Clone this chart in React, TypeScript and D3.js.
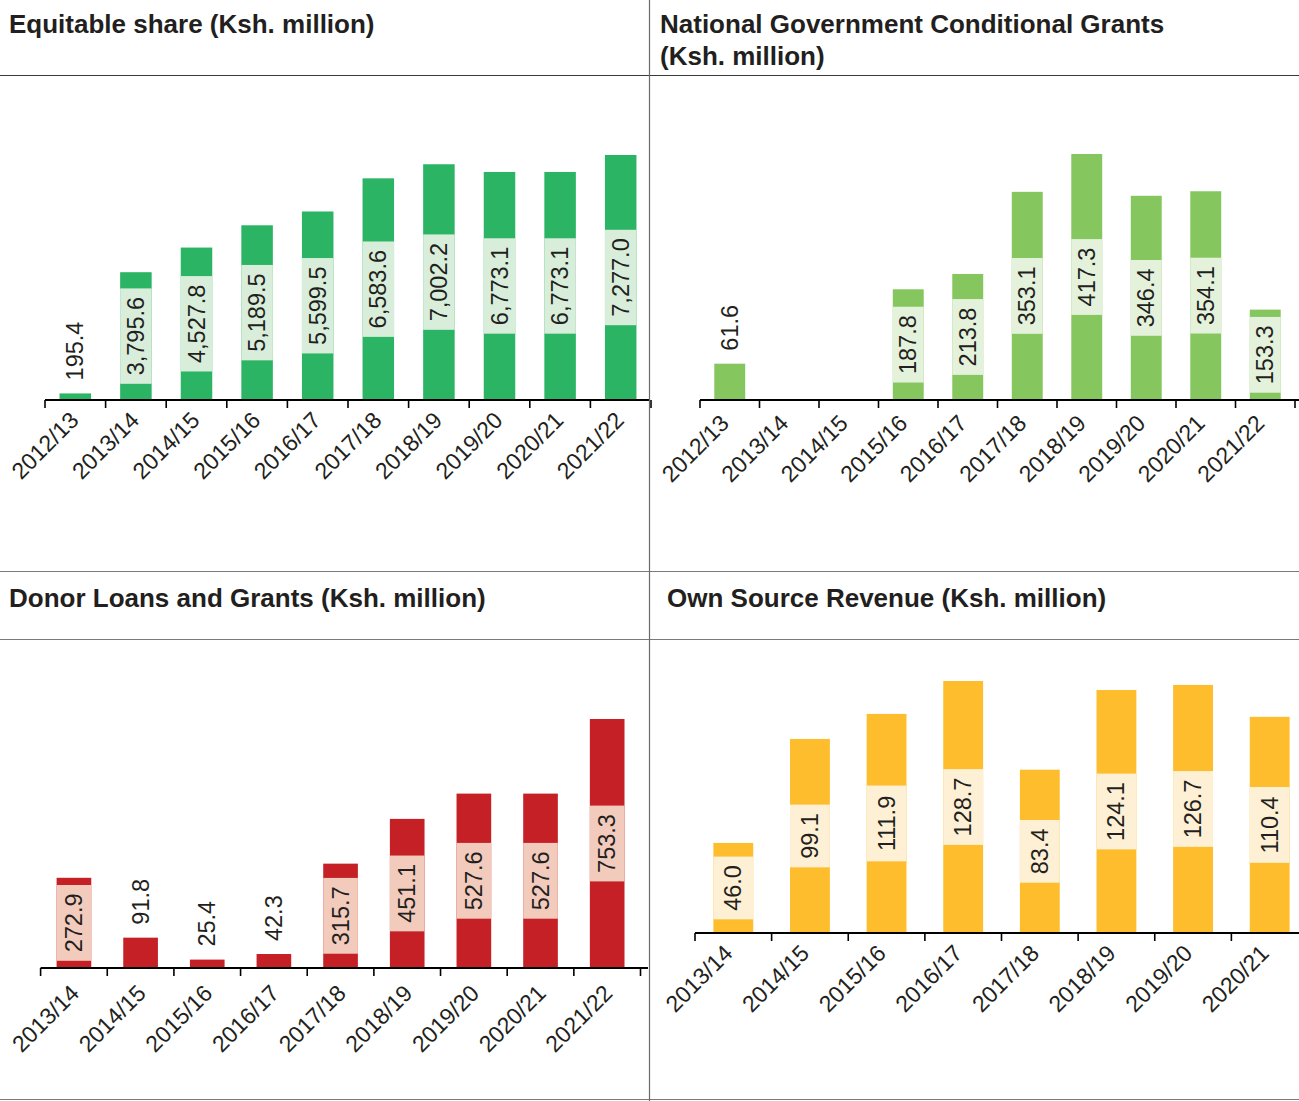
import React from 'react';
import * as d3 from 'd3';

// Data (Ksh. million)
const equitableYears = ['2012/13', '2013/14', '2014/15', '2015/16', '2016/17', '2017/18', '2018/19', '2019/20', '2020/21', '2021/22'];
const equitableValues = [195.4, 3795.6, 4527.8, 5189.5, 5599.5, 6583.6, 7002.2, 6773.1, 6773.1, 7277.0];

const conditionalYears = ['2012/13', '2013/14', '2014/15', '2015/16', '2016/17', '2017/18', '2018/19', '2019/20', '2020/21', '2021/22'];
const conditionalValues: (number | null)[] = [61.6, null, null, 187.8, 213.8, 353.1, 417.3, 346.4, 354.1, 153.3];

const donorYears = ['2013/14', '2014/15', '2015/16', '2016/17', '2017/18', '2018/19', '2019/20', '2020/21', '2021/22'];
const donorValues = [272.9, 91.8, 25.4, 42.3, 315.7, 451.1, 527.6, 527.6, 753.3];

const osrYears = ['2013/14', '2014/15', '2015/16', '2016/17', '2017/18', '2018/19', '2019/20', '2020/21'];
const osrValues = [46.0, 99.1, 111.9, 128.7, 83.4, 124.1, 126.7, 110.4];

const FONT = "'Liberation Sans', Arial, Helvetica, sans-serif";
const TEXT = '#231f20';
const VALUE_SIZE = 23.5;
const fmt = d3.format(',.1f');

// rough Helvetica/Arial advance widths for the label characters
const textWidth = (s: string, size: number) =>
  s.split('').reduce((w, c) => w + (c === ',' || c === '.' ? 0.278 : 0.556), 0) * size;

interface PanelProps {
  title: string[];
  titleX: number;
  titleY: number;
  years: string[];
  values: (number | null)[];
  left: number;
  right: number;
  base: number;
  top: number;
  axisEnd: number;
  labelOffset: [number, number];
  color: string;
  boxColor: string;
}

function Panel({ title, titleX, titleY, years, values, left, right, base, top, axisEnd, labelOffset, color, boxColor }: PanelProps) {
  const x = d3.scaleBand<string>()
    .domain(years)
    .range([left, right])
    .paddingInner(0.48)
    .paddingOuter(0.24);

  const maxValue = d3.max(values, d => d ?? 0) as number;
  const y = d3.scaleLinear().domain([0, maxValue]).range([base, top]);

  const gap = (x.step() - x.bandwidth()) / 2;
  const ticks = years.map(d => (x(d) as number) - gap);
  ticks.push(ticks[ticks.length - 1] + x.step());

  return (
    <g>
      {title.map((t, i) => (
        <text key={i} x={titleX} y={titleY + i * 32} fontFamily={FONT} fontWeight="bold"
          fontSize={26} fill={TEXT}>{t}</text>
      ))}

      {years.map((d, i) => {
        const v = values[i];
        if (v == null) return null;
        const bx = x(d) as number;
        const bw = x.bandwidth();
        const yTop = y(v);
        const h = base - yTop;
        const cx = bx + bw / 2;
        const label = fmt(v);
        const boxH = textWidth(label, VALUE_SIZE) + 17;
        const inside = h >= boxH + 8;
        const cy = yTop + h / 2;
        return (
          <g key={d}>
            <rect x={bx} y={yTop} width={bw} height={h} fill={color} />
            {inside ? (
              <>
                <rect x={bx} y={cy - boxH / 2} width={bw} height={boxH} fill={boxColor} />
                <text transform={`translate(${cx},${cy}) rotate(-90)`} textAnchor="middle"
                  dominantBaseline="central" fontFamily={FONT} fontSize={VALUE_SIZE} fill={TEXT}>{label}</text>
              </>
            ) : (
              <text transform={`translate(${cx},${yTop - 13}) rotate(-90)`} textAnchor="start"
                dominantBaseline="central" fontFamily={FONT} fontSize={VALUE_SIZE} fill={TEXT}>{label}</text>
            )}
          </g>
        );
      })}

      <line x1={ticks[0]} x2={axisEnd} y1={base} y2={base} stroke="#000" strokeWidth={2} />
      {ticks.map((t, i) => (
        <line key={i} x1={t} x2={t} y1={base} y2={base + 8} stroke="#000" strokeWidth={1.6} />
      ))}
      {years.map(d => {
        const cx = (x(d) as number) + x.bandwidth() / 2 + labelOffset[0];
        return (
          <text key={d} transform={`translate(${cx},${base + labelOffset[1]}) rotate(-45)`}
            textAnchor="end" dominantBaseline="central" fontFamily={FONT} fontSize={23} fill={TEXT}>{d}</text>
        );
      })}
    </g>
  );
}

export default function App() {
  const width = 1299;
  const height = 1101;
  return (
    <svg width={width} height={height} style={{ position: 'absolute', left: 0, top: 0, background: '#fff' }}>
      <rect width={width} height={height} fill="#fff" />

      <Panel title={['Equitable share (Ksh. million)']} titleX={9} titleY={33}
        years={equitableYears} values={equitableValues}
        left={45} right={651} base={400} top={155} axisEnd={650} labelOffset={[-1, 16]}
        color="#2bb463" boxColor="#d8eedb" />

      <Panel title={['National Government Conditional Grants', '(Ksh. million)']} titleX={660} titleY={33}
        years={conditionalYears} values={conditionalValues}
        left={700} right={1295} base={400} top={154} axisEnd={1299} labelOffset={[-5, 19]}
        color="#85c65f" boxColor="#e4f2dc" />

      <Panel title={['Donor Loans and Grants (Ksh. million)']} titleX={9} titleY={607}
        years={donorYears} values={donorValues}
        left={40.6} right={640.5} base={968} top={719} axisEnd={648} labelOffset={[1, 21]}
        color="#c42026" boxColor="#f2cbbd" />

      <Panel title={['Own Source Revenue (Ksh. million)']} titleX={667} titleY={607}
        years={osrYears} values={osrValues}
        left={695} right={1308} base={933} top={681} axisEnd={1299} labelOffset={[-5, 16]}
        color="#fdbd2c" boxColor="#fef0d4" />

      {/* panel frame lines */}
      <line x1={0} x2={width} y1={75.5} y2={75.5} stroke="#3a3a3a" strokeWidth={1.2} />
      <line x1={0} x2={width} y1={571.5} y2={571.5} stroke="#7a7a7a" strokeWidth={1.2} />
      <line x1={0} x2={width} y1={639.5} y2={639.5} stroke="#7a7a7a" strokeWidth={1.2} />
      <line x1={0} x2={width} y1={1099.5} y2={1099.5} stroke="#7a7a7a" strokeWidth={1.2} />
      <line x1={649.5} x2={649.5} y1={0} y2={height} stroke="#6a6a6a" strokeWidth={1.2} />
    </svg>
  );
}
